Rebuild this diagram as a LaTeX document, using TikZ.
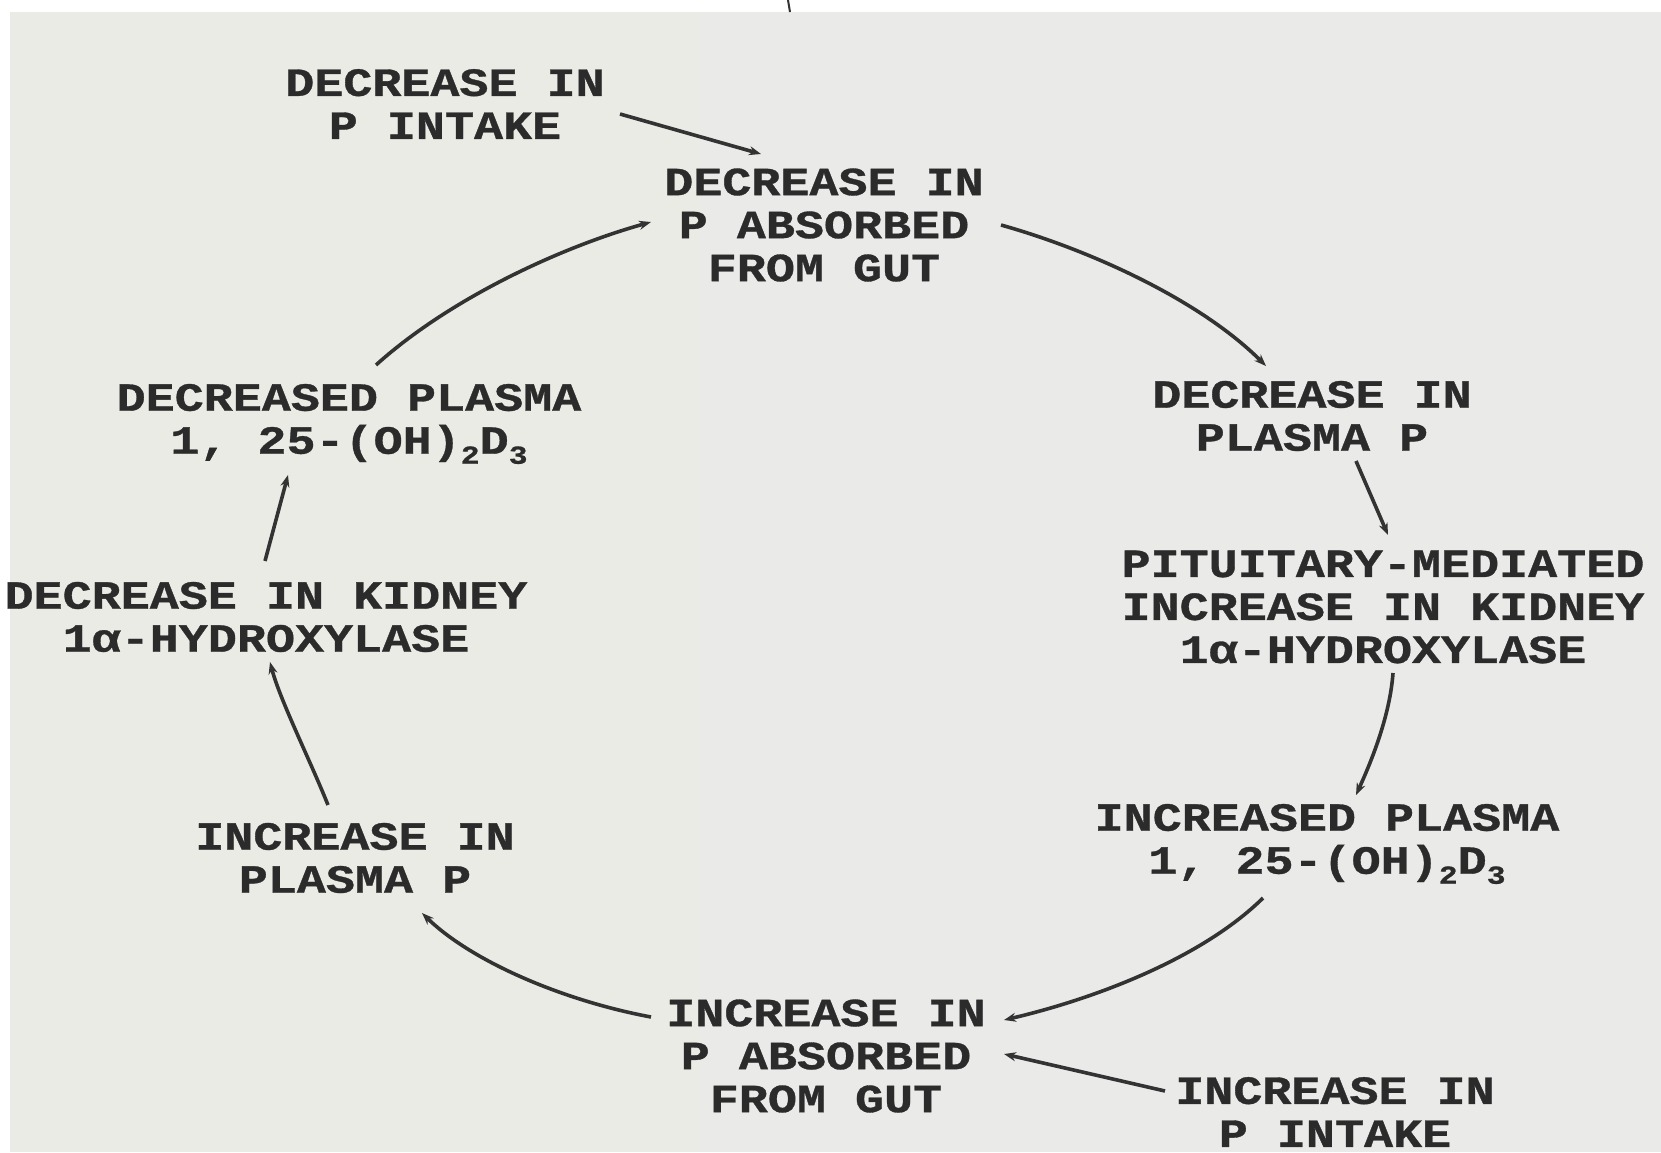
\documentclass[tikz,border=0pt]{standalone}
\usepackage{fontspec}
\usetikzlibrary{arrows.meta,calc}
\newfontfamily\labelfont{Liberation Mono}[FakeStretch=1.21,FakeBold=0.8]
\definecolor{bgc}{HTML}{EAEAE9}
\definecolor{bgl}{HTML}{EBEBE6}
\definecolor{textc}{HTML}{2B2B2B}
\definecolor{linec}{HTML}{333333}
\newcommand\lowidx[1]{\raisebox{-5pt}{\fontsize{13}{13}\selectfont #1}}
\tikzset{
  lbl/.style={font=\labelfont\bfseries\fontsize{20}{21.5}\selectfont, align=center, text=textc, inner sep=0pt},
  conn/.style={draw=linec, line width=1.8pt, -{Stealth[length=6pt,width=4.5pt]}}
}
\begin{document}
\begin{tikzpicture}[x=0.5pt,y=-0.5pt]
\useasboundingbox (0,0) rectangle (1661,1152);
\fill[bgc] (0,0) rectangle (1661,1152);
\fill[bgl] (12,12) rectangle (700,1152);
\fill[white] (0,0) rectangle (1661,12);
\fill[white] (0,0) rectangle (10,1152);
\draw[linec, line width=1pt] (788,0) -- (790,12);

\node[lbl] (A) at (445,104) {DECREASE IN\\P INTAKE};
\node[lbl] (B) at (824,225) {DECREASE IN\\P ABSORBED\\FROM GUT};
\node[lbl] (C) at (1312,416) {DECREASE IN\\PLASMA P};
\node[lbl] (D) at (1383,607) {PITUITARY-MEDIATED\\INCREASE IN KIDNEY\\1α-HYDROXYLASE};
\node[lbl] (E) at (1327,844) {INCREASED PLASMA\\1, 25-(OH)\lowidx{2}D\lowidx{3}};
\node[lbl] (F) at (1335,1112) {INCREASE IN\\P INTAKE};
\node[lbl] (G) at (826,1056) {INCREASE IN\\P ABSORBED\\FROM GUT};
\node[lbl] (H) at (355,858) {INCREASE IN\\PLASMA P};
\node[lbl] (I) at (266,617) {DECREASE IN KIDNEY\\1α-HYDROXYLASE};
\node[lbl] (J) at (349,424) {DECREASED PLASMA\\1, 25-(OH)\lowidx{2}D\lowidx{3}};

\draw[conn] ($(A)+(175,10)$) -- ($(B)+(-63,-71)$);
\draw[conn] ($(B)+(177,0)$) .. controls (1090,250) and (1200,300) .. ($(C)+(-46,-50)$);
\draw[conn] ($(C)+(44,45)$) -- ($(D)+(5,-72)$);
\draw[conn] ($(D)+(10,66)$) .. controls (1390,715) and (1372,760) .. ($(E)+(29,-49)$);
\draw[conn] ($(E)+(-64,54)$) .. controls (1200,960) and (1090,1000) .. ($(G)+(178,-36)$);
\draw[conn] ($(F)+(-170,-21)$) -- ($(G)+(178,-2)$);
\draw[conn] ($(G)+(-175,-39)$) .. controls (560,1000) and (470,960) .. ($(H)+(67,55)$);
\draw[conn] ($(H)+(-27,-53)$) .. controls (310,760) and (280,700) .. ($(I)+(4,45)$);
\draw[conn] ($(I)+(-1,-56)$) -- ($(J)+(-61,51)$);
\draw[conn] ($(J)+(27,-59)$) .. controls (448,300) and (558,248) .. ($(B)+(-173,-3)$);
\end{tikzpicture}
\end{document}
